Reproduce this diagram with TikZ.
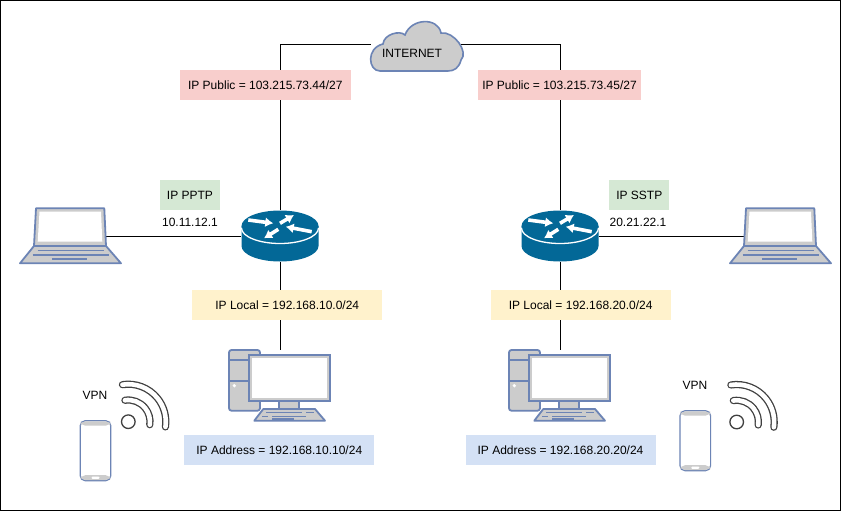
\documentclass[tikz,border=0pt]{standalone}
\usepackage{fontspec}
\usetikzlibrary{arrows.meta}
\setmainfont{Liberation Sans}
\definecolor{iconline}{HTML}{6C84B5}
\definecolor{icongrey}{HTML}{CCCCCC}
\definecolor{routerblue}{HTML}{036897}
\definecolor{redfill}{HTML}{F8CECC}
\definecolor{greenfill}{HTML}{D5E8D4}
\definecolor{yellowfill}{HTML}{FFF2CC}
\definecolor{bluefill}{HTML}{D4E1F5}
\tikzset{
    iplabel/.style={fill=#1, minimum height=30, inner sep=0, font=\fontsize{12}{14}\selectfont},
    plainlabel/.style={inner sep=0, font=\fontsize{12}{14}\selectfont},
    iconbox/.style={minimum width=#1, inner sep=0},
    link/.style={draw, line width=1},
    routerarrow/.style={white, line width=3.6, -{Latex[length=8,width=10]}},
    pics/router/.style={code={
        \fill[routerblue] (-38.5,-12) -- (-38.5,8) arc[start angle=180, end angle=0, x radius=38.5, y radius=15.5] -- (38.5,-12) -- cycle;
        \fill[routerblue] (0,-12) ellipse [x radius=38.5, y radius=15.5];
        \draw[white, line width=1.3] (-38.5,-10) arc[start angle=180, end angle=0, x radius=38.5, y radius=15.5];
        \draw[routerarrow] (-31.7,-18) -- (-6.7,-14.7);
        \draw[routerarrow] (0,-14.7) -- (14,-23);
        \draw[routerarrow] (31.7,-6.3) -- (5.7,-11.3);
        \draw[routerarrow] (-1.7,-8.7) -- (-16,0.3);
    }},
    pics/laptop/.style={code={
        \draw[iconline, line width=1.8, fill=icongrey, line join=round] (-36.5,10) -- (-34.5,-27.7) -- (33.8,-27.7) -- (35.5,10) -- (50.5,27.3) -- (-50.5,27.3) -- cycle;
        \draw[iconline, line width=1.8] (-36.5,10) -- (35.5,10);
        \fill[white] (-31,-24.3) -- (30.5,-24.3) -- (31.8,5.7) -- (-32.8,5.7) -- cycle;
        \draw[iconline, line width=1.5] (-32.8,14.3) -- (33.8,14.3) (-37.8,19) -- (38.5,19) (-18.2,23) -- (16.2,23);
    }},
    pics/desktop/.style={code={
        \draw[iconline, line width=1.8, fill=icongrey, rounded corners=2.5] (-51,-35) rectangle (-20,25.7);
        \draw[iconline, line width=1.8] (-51,-25) -- (-20,-25) (-51,-4.3) -- (-20,-4.3);
        \fill[white] (-45.7,0.7) circle [radius=1.8];
        \draw[iconline, line width=1.8, fill=icongrey] (-0.7,15.7) rectangle (19.3,24);
        \draw[iconline, line width=1.8, fill=icongrey] (-30.7,-30) rectangle (50,15.7);
        \fill[white] (-27.7,-27.5) rectangle (47,12.5);
        \draw[iconline, line width=1.8, fill=icongrey, line join=round] (-16.7,24) -- (35,24) -- (45,35.7) -- (-25.7,35.7) -- cycle;
        \draw[iconline, line width=1.5] (-14,27.7) -- (22,27.7) (26,27.7) -- (34,27.7) (-18,31.7) -- (-12,31.7) (-8,31.7) -- (26,31.7) (-8,34) -- (14,34);
    }},
    pics/phone/.style={code={
        \draw[iconline, line width=1.2, fill=white, rounded corners=5] (-15.3,-30) rectangle (15.3,30);
        \fill[icongrey, rounded corners=4.5] (-14.7,-29.4) rectangle (14.7,-25);
        \fill[icongrey, rounded corners=4.5] (-14.7,24.5) rectangle (14.7,29.4);
        \fill[white, rounded corners=1] (-4,25.8) rectangle (4,28.2);
    }},
    pics/wifi/.style={code={
        \foreach \R in {21.7,37.5} {
            \draw[black!75, line width=7.2, line cap=round] (-99:\R) arc[start angle=-99, end angle=8, radius=\R];
            \draw[white, line width=4.6, line cap=round] (-99:\R) arc[start angle=-99, end angle=8, radius=\R];
        }
        \draw[black!75, line width=1.3, fill=white] (0,0) circle [radius=6.8];
    }},
    pics/cloud/.style={code={
        \draw[iconline, line width=1.6, fill=icongrey]
            (-36,25) .. controls (-48,25) and (-50,2) .. (-33,-2)
            .. controls (-32,-12) and (-16,-16) .. (-11,-11)
            .. controls (-5,-28) and (22,-29) .. (25,-13)
            .. controls (38,-15) and (53,6) .. (45,14)
            .. controls (43,22) and (38,25) .. (32,25) -- cycle;
    }},
}
\begin{document}
\begin{tikzpicture}[x=1pt, y=-1pt]
    \useasboundingbox (0,0) rectangle (841,511);
    \fill[white] (0,0) rectangle (841,511);
    \draw[line width=1] (0.5,0.5) rectangle (840.5,510.5);

    % Define icon nodes
    \node (cloud) [iconbox=90, minimum height=50] at (416,45) {};
    \node (routerA) [iconbox=77, minimum height=52] at (280,236) {};
    \node (routerB) [iconbox=77, minimum height=52] at (560,236) {};
    \node (laptopA) [iconbox=71, minimum height=56] at (70.5,236) {};
    \node (laptopB) [iconbox=71, minimum height=56] at (780.5,236) {};
    \node (desktopA) [iconbox=20, minimum height=70] at (280,385) {};
    \node (desktopB) [iconbox=20, minimum height=70] at (560,385) {};

    % Draw links first, labels cover them
    \draw[link] (cloud.west) -| (routerA.north);
    \draw[link] (cloud.east) -| (routerB.north);
    \draw[link] (routerA.south) -- (desktopA.north);
    \draw[link] (routerB.south) -- (desktopB.north);
    \draw[link] (laptopA.east) -- (routerA.west);
    \draw[link] (routerB.east) -- (laptopB.west);

    % Icons
    \pic at (416,46) {cloud};
    \pic at (280,238) {router};
    \pic at (560,238) {router};
    \pic at (70.5,236) {laptop};
    \pic at (780.5,236) {laptop};
    \pic at (280,385) {desktop};
    \pic at (560,385) {desktop};
    \pic at (95.5,450.7) {phone};
    \pic at (695.3,440.7) {phone};
    \pic at (128.3,421.7) {wifi};
    \pic at (736.7,422) {wifi};

    % Labels
    \node (internet) [plainlabel] at (412,53) {INTERNET};
    \node (publicA) [iplabel=redfill, minimum width=170.7] at (265.3,85) {IP Public = 103.215.73.44/27};
    \node (publicB) [iplabel=redfill, minimum width=162.4] at (559.5,85) {IP Public = 103.215.73.45/27};
    \node (pptp) [iplabel=greenfill, minimum width=60] at (190,195) {IP PPTP};
    \node (sstp) [iplabel=greenfill, minimum width=60] at (639.3,195) {IP SSTP};
    \node (gwA) [plainlabel] at (190,222) {10.11.12.1};
    \node (gwB) [plainlabel] at (638,222) {20.21.22.1};
    \node (localA) [iplabel=yellowfill, minimum width=190] at (287.3,305) {IP Local = 192.168.10.0/24};
    \node (localB) [iplabel=yellowfill, minimum width=180] at (580.7,305) {IP Local = 192.168.20.0/24};
    \node (addrA) [iplabel=bluefill, minimum width=190] at (279.3,450) {IP Address = 192.168.10.10/24};
    \node (addrB) [iplabel=bluefill, minimum width=190] at (560.5,450) {IP Address = 192.168.20.20/24};
    \node (vpnA) [plainlabel] at (95,395) {VPN};
    \node (vpnB) [plainlabel] at (695,385) {VPN};
\end{tikzpicture}
\end{document}
